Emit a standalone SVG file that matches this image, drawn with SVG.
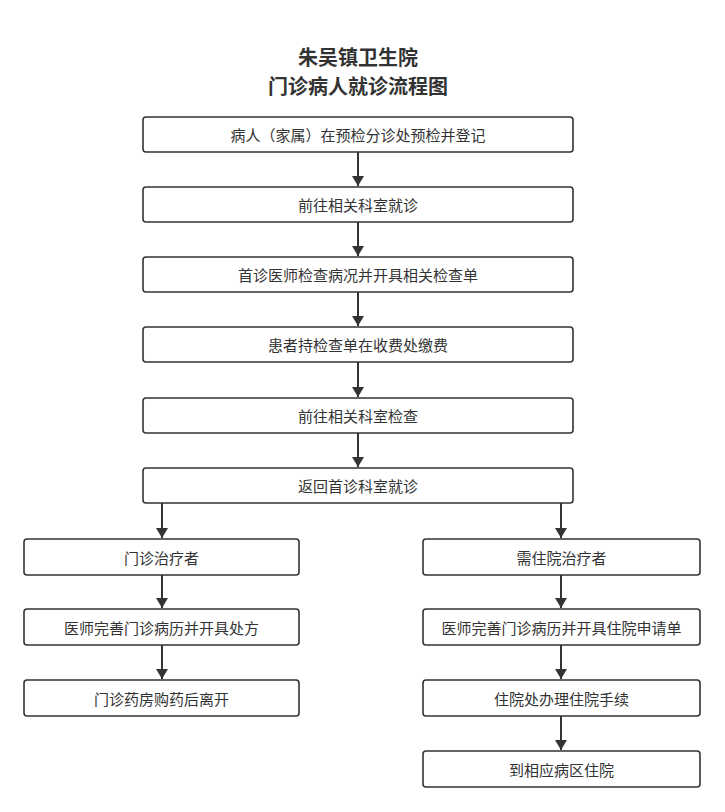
<svg xmlns="http://www.w3.org/2000/svg" width="725" height="812" viewBox="0 0 725 812">
<defs>
<marker id="ah" viewBox="0 0 10 12" refX="10" refY="6" markerWidth="10" markerHeight="12" markerUnits="userSpaceOnUse" orient="auto">
<path d="M0,0 L10,6 L0,12 Z" fill="#333"/>
</marker>
<style>
.box{fill:#fff;stroke:#333;stroke-width:1.6}
.t{font-family:"Noto Sans CJK SC","Noto Sans",sans-serif;font-size:15px;fill:#333;text-anchor:middle;dominant-baseline:central}
.title{font-family:"Noto Sans CJK SC","Noto Sans",sans-serif;font-size:20px;font-weight:bold;fill:#333;text-anchor:middle}
.c{stroke:#333;stroke-width:2;fill:none;marker-end:url(#ah)}
</style>
</defs>
<rect width="725" height="812" fill="#fff"/>
<g id="title">
<text class="title" x="358" y="65">朱吴镇卫生院</text>
<text class="title" x="358" y="94">门诊病人就诊流程图</text>
</g>
<g id="n1"><rect class="box" x="143" y="117" width="430" height="35" rx="3"/><text class="t" x="358" y="134.5">病人（家属）在预检分诊处预检并登记</text></g>
<g id="n2"><rect class="box" x="143" y="187" width="430" height="35" rx="3"/><text class="t" x="358" y="204.5">前往相关科室就诊</text></g>
<g id="n3"><rect class="box" x="143" y="257" width="430" height="35" rx="3"/><text class="t" x="358" y="274.5">首诊医师检查病况并开具相关检查单</text></g>
<g id="n4"><rect class="box" x="143" y="327" width="430" height="35" rx="3"/><text class="t" x="358" y="344.5">患者持检查单在收费处缴费</text></g>
<g id="n5"><rect class="box" x="143" y="398" width="430" height="35" rx="3"/><text class="t" x="358" y="415.5">前往相关科室检查</text></g>
<g id="n6"><rect class="box" x="143" y="468" width="430" height="35" rx="3"/><text class="t" x="358" y="485.5">返回首诊科室就诊</text></g>
<g id="l1"><rect class="box" x="24" y="539" width="275" height="36" rx="3"/><text class="t" x="161.5" y="557">门诊治疗者</text></g>
<g id="l2"><rect class="box" x="24" y="609" width="275" height="36" rx="3"/><text class="t" x="161.5" y="627">医师完善门诊病历并开具处方</text></g>
<g id="l3"><rect class="box" x="24" y="680" width="275" height="36" rx="3"/><text class="t" x="161.5" y="698">门诊药房购药后离开</text></g>
<g id="r1"><rect class="box" x="423" y="539" width="277" height="36" rx="3"/><text class="t" x="561.5" y="557">需住院治疗者</text></g>
<g id="r2"><rect class="box" x="423" y="609" width="277" height="36" rx="3"/><text class="t" x="561.5" y="627">医师完善门诊病历并开具住院申请单</text></g>
<g id="r3"><rect class="box" x="423" y="680" width="277" height="36" rx="3"/><text class="t" x="561.5" y="698">住院处办理住院手续</text></g>
<g id="r4"><rect class="box" x="423" y="751" width="277" height="36" rx="3"/><text class="t" x="561.5" y="769">到相应病区住院</text></g>
<g id="connectors">
<line class="c" x1="358" y1="152" x2="358" y2="186"/>
<line class="c" x1="358" y1="222" x2="358" y2="256"/>
<line class="c" x1="358" y1="292" x2="358" y2="326"/>
<line class="c" x1="358" y1="362" x2="358" y2="397"/>
<line class="c" x1="358" y1="433" x2="358" y2="467"/>
<line class="c" x1="162" y1="503" x2="162" y2="538"/>
<line class="c" x1="561" y1="503" x2="561" y2="538"/>
<line class="c" x1="162" y1="575" x2="162" y2="608"/>
<line class="c" x1="162" y1="645" x2="162" y2="679"/>
<line class="c" x1="561" y1="575" x2="561" y2="608"/>
<line class="c" x1="561" y1="645" x2="561" y2="679"/>
<line class="c" x1="561" y1="716" x2="561" y2="750"/>
</g>
</svg>
